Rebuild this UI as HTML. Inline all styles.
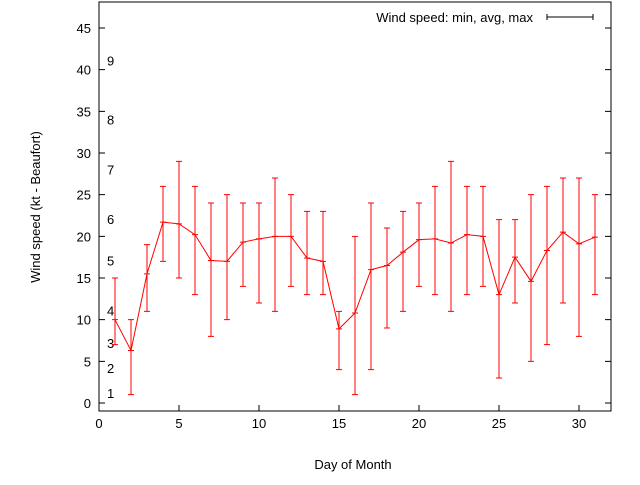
<!DOCTYPE html>
<html><head><meta charset="utf-8"><style>body{margin:0;background:#fff}svg{font-family:"Liberation Sans",sans-serif;font-size:13px}</style></head>
<body>
<svg id="c" width="640" height="480">
<rect x="0" y="0" width="640" height="480" fill="#fff"/>
</svg>
<script>
const days=[1,2,3,4,5,6,7,8,9,10,11,12,13,14,15,16,17,18,19,20,21,22,23,24,25,26,27,28,29,30,31];
const avgs=[10,6.3,15.5,21.7,21.5,20.2,17.1,17,19.3,19.7,20,20,17.4,17,8.9,10.8,16,16.5,18.1,19.6,19.7,19.2,20.2,20,13,17.5,14.6,18.3,20.5,19.1,19.9];
const mins=[7,1,11,17,15,13,8,10,14,12,11,14,13,13,4,1,4,9,11,14,13,11,13,14,3,12,5,7,12,8,13];
const maxs=[15,10,19,26,29,26,24,25,24,24,27,25,23,23,11,20,24,21,23,24,26,29,26,26,22,22,25,26,27,27,25];
const xTicks=[0,5,10,15,20,25,30];
const yTicks=[0,5,10,15,20,25,30,35,40,45];
const beaufort=[["1",1.2],["2",4.2],["3",7.2],["4",11.1],["5",17.1],["6",22.1],["7",28],["8",34],["9",41.1]];
const L=99,R=611,T=2,B=411;
const X=v=>L+v*16, Y=v=>403-v*8.333;
const s=document.getElementById('c'),NS='http://www.w3.org/2000/svg';
function el(t,a,txt){const e=document.createElementNS(NS,t);for(const k in a)e.setAttribute(k,a[k]);if(txt!==undefined)e.textContent=txt;s.appendChild(e);return e;}
let f=el('rect',{x:L,y:T,width:R-L,height:B-T,fill:'none',stroke:'#000'});


xTicks.forEach(v=>{
 let t=el('line',{x1:X(v),x2:X(v),y1:B,y2:B-6,stroke:'#000'});
 
 
 let l=el('text',{x:X(v),y:B+17,'text-anchor':'middle'},v);
 
 
});
yTicks.forEach(v=>{
 let t=el('path',{d:`M${L},${Y(v)}h6M${R},${Y(v)}h-6`,stroke:'#000'});
 
 
 let l=el('text',{x:L-8,y:Y(v)+5,'text-anchor':'end'},v);
 
 
});
beaufort.forEach(b=>{
 let l=el('text',{x:107,y:Y(b[1])+5},b[0]);
 
 
});
let xt=el('text',{x:353,y:469,'text-anchor':'middle'},'Day of Month');


let yt=el('text',{x:0,y:0,'text-anchor':'middle',transform:'translate(40,207) rotate(-90)'},'Wind speed (kt - Beaufort)');


days.forEach((d,i)=>{
 const x=X(d);
 let e=el('path',{d:`M${x},${Y(mins[i])}V${Y(maxs[i])}M${x-3},${Y(mins[i])}h6M${x-3},${Y(maxs[i])}h6M${x-3},${Y(avgs[i])}h6`,stroke:'#f00',fill:'none'});
 
 
});
let ln=el('polyline',{points:days.map((d,i)=>X(d)+','+Y(avgs[i])).join(' '),fill:'none',stroke:'#f00'});


let lt=el('text',{x:533,y:22,'text-anchor':'end'},'Wind speed: min, avg, max');


let ls=el('path',{d:'M547,17H593M547,14v6M593,14v6',stroke:'#000'});


</script>
</body></html>
